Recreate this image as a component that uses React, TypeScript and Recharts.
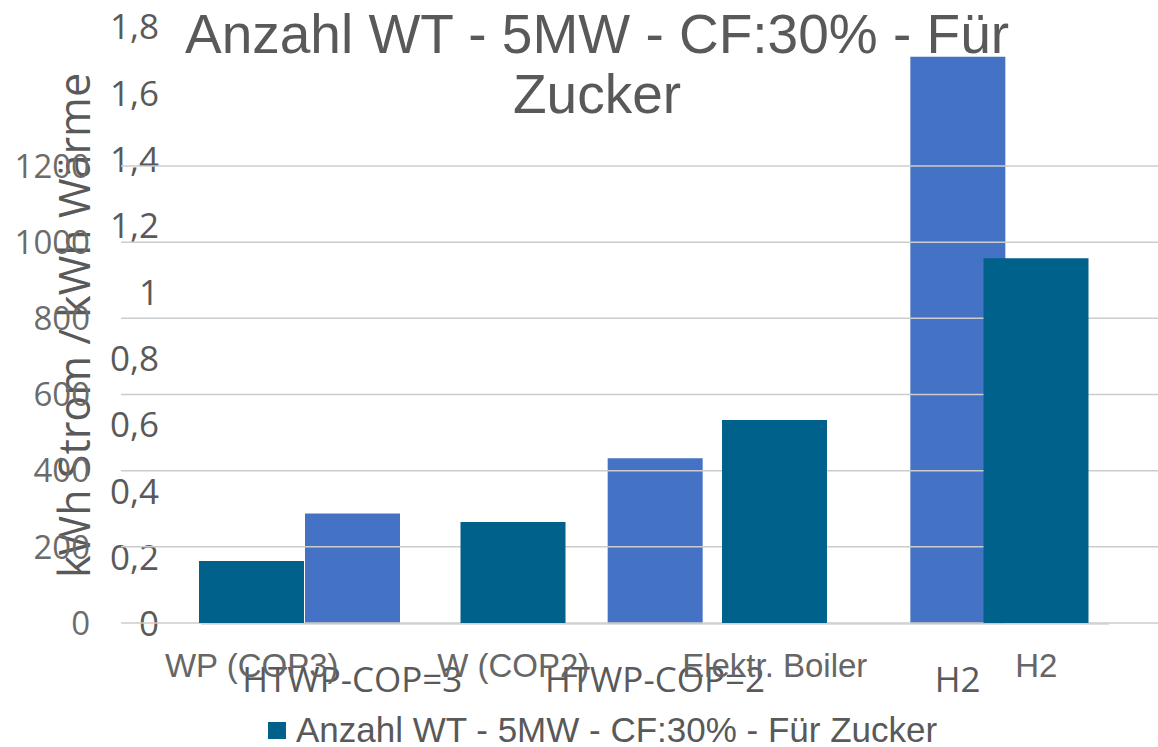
import React from 'react';
import { BarChart, Bar, XAxis, YAxis, CartesianGrid } from 'recharts';

// Chart with number of wind turbines (teal bars, left axis 0..1200)
const wtCategories = ['WP (COP3)', 'W (COP2)', 'Elektr. Boiler', 'H2'];
const wtValues = [163, 265, 533, 958];
const wtTicks = [0, 200, 400, 600, 800, 1000, 1200];

// Chart with kWh Strom / kWh Wärme (blue bars, axis 0..1,8)
const ratioCategories = ['HTWP-COP=3', 'HTWP-COP=2', 'H2'];
const ratioValues = [0.333, 0.5, 1.71];
const ratioTicks = [0, 0.2, 0.4, 0.6, 0.8, 1, 1.2, 1.4, 1.6, 1.8];

const titleLines = ['Anzahl WT - 5MW - CF:30% - Für', 'Zucker'];
const legendLabel = 'Anzahl WT - 5MW - CF:30% - Für Zucker';
const yAxisTitle = 'kWh Strom / kWh Wärme';

const wtData = wtCategories.map((c, i) => ({ cat: c, value: wtValues[i] }));
const ratioData = ratioCategories.map((c, i) => ({ cat: c, value: ratioValues[i] }));

const TEAL = '#00628B';
const BLUE = '#4472C4';
const TEXT = '#595959';

export default function App() {
  return (
    <div
      style={{
        position: 'absolute',
        left: 0,
        top: 0,
        width: 1158,
        height: 747,
        overflow: 'hidden',
        background: '#ffffff',
      }}
    >
      <div style={{ position: 'absolute', left: 0, top: 0 }}>
        <BarChart
          width={1158}
          height={747}
          data={ratioData}
          margin={{ top: 27, right: 49, bottom: 0, left: 0 }}
        >
          <XAxis
            dataKey="cat"
            height={123}
            interval={0}
            tickLine={false}
            axisLine={{ stroke: '#d4d4d4', strokeWidth: 1.5 }}
            tickMargin={37}
            tick={{ fill: TEXT, fontSize: 35, fontFamily: 'Open Sans' }}
          />
          <YAxis
            domain={[0, 1.8]}
            ticks={ratioTicks}
            interval={0}
            width={201}
            axisLine={false}
            tickLine={false}
            tickMargin={36}
            tickFormatter={(v: number) => String(v).replace('.', ',')}
            tick={{ fill: TEXT, fontSize: 35, fontFamily: 'Open Sans' }}
            label={{
              value: yAxisTitle,
              angle: -90,
              position: 'center',
              dx: -26,
              fill: TEXT,
              fontSize: 43,
              fontFamily: 'Open Sans',
            }}
          />
          <Bar dataKey="value" fill={BLUE} barSize={95} isAnimationActive={false} />
        </BarChart>
      </div>

      <div style={{ position: 'absolute', left: 0, top: 0 }}>
        <BarChart
          width={1170}
          height={747}
          data={wtData}
          margin={{ top: 166, right: 3, bottom: 0, left: 0 }}
        >
          <CartesianGrid vertical={false} stroke="#cccccc" strokeWidth={1.5} />
          <XAxis
            dataKey="cat"
            height={124}
            interval={0}
            tickLine={false}
            axisLine={false}
            tickMargin={25}
            tick={{ fill: '#666666', fontSize: 33, fontFamily: 'Liberation Sans, Arial, sans-serif' }}
          />
          <YAxis
            domain={[0, 1200]}
            ticks={wtTicks}
            interval={0}
            width={121}
            axisLine={false}
            tickLine={false}
            tickMargin={25}
            tick={{ fill: '#6b6b6b', fontSize: 33, fontFamily: 'Open Sans' }}
          />
          <Bar dataKey="value" fill={TEAL} barSize={105} isAnimationActive={false} />
        </BarChart>
      </div>

      <div
        style={{
          position: 'absolute',
          left: 0,
          top: 4,
          width: 1194,
          textAlign: 'center',
          fontFamily: 'Liberation Sans, Arial, sans-serif',
          fontSize: 55,
          lineHeight: '60px',
          color: TEXT,
          whiteSpace: 'nowrap',
        }}
      >
        {titleLines.map((l) => (
          <div key={l}>{l}</div>
        ))}
      </div>

      <div
        style={{
          position: 'absolute',
          left: 268,
          top: 722,
          width: 18,
          height: 17,
          background: TEAL,
        }}
      />
      <div
        style={{
          position: 'absolute',
          left: 296,
          top: 710,
          fontFamily: 'Liberation Sans, Arial, sans-serif',
          fontSize: 35,
          lineHeight: '40px',
          color: TEXT,
          whiteSpace: 'nowrap',
        }}
      >
        {legendLabel}
      </div>
    </div>
  );
}
